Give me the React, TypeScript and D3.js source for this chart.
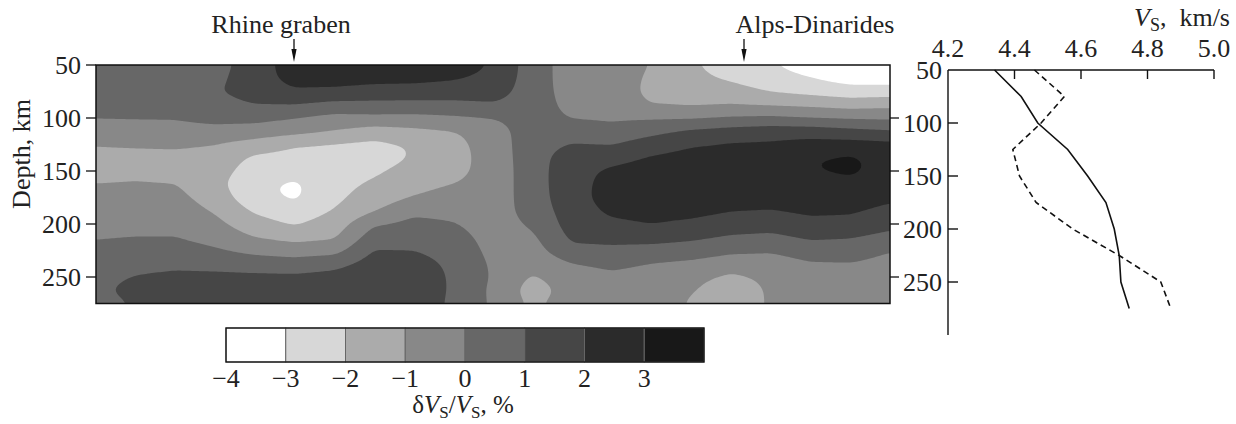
import React, { useEffect, useRef } from "react";
import * as d3 from "d3";

const W = 1236;
const H = 424;
const FONT = "'Liberation Serif', 'DejaVu Serif', serif";

// model grid: depth of each row (km) and profile position of each column
const gridDepths = [50, 62.5, 75, 87.5, 100, 112.5, 125, 137.5, 150, 162.5, 175, 187.5, 200, 212.5, 225, 237.5, 250, 262.5, 275];
const gridCols = [0, 1, 2, 3, 4, 5, 6, 7, 8, 9, 10, 11, 12, 13, 14, 15, 16, 17, 18, 19, 20];

const col00 = [0.5, 0.5, 0.45, 0.3, 0.04, -0.42, -0.94, -1.35, -1.35, -0.96, -0.74, -0.5, -0.28, -0.05, 0.2, 0.45, 0.7, 0.8, 0.6];
const col01 = [0.5, 0.5, 0.45, 0.3, 0.06, -0.37, -0.87, -1.32, -1.26, -0.91, -0.68, -0.45, -0.22, 0.0, 0.35, 0.71, 1.05, 1.3, 1.1];
const col02 = [0.5, 0.5, 0.45, 0.3, 0.07, -0.33, -0.83, -1.29, -1.33, -0.98, -0.73, -0.48, -0.24, 0.0, 0.4, 0.8, 1.2, 1.4, 1.5];
const col03 = [0.7, 0.8, 0.95, 0.7, 0.3, -0.32, -1.02, -1.33, -1.55, -1.7, -1.43, -1.1, -0.73, -0.33, 0.11, 0.73, 1.2, 1.4, 1.5];
const col04 = [1.4, 1.45, 1.3, 1.02, 0.3, -0.44, -1.39, -2.2, -2.5, -2.8, -2.7, -2.12, -1.62, -1.0, -0.29, 0.57, 1.2, 1.4, 1.5];
const col05 = [2.6, 2.4, 1.85, 1.0, 0.0, -0.65, -1.93, -2.33, -2.67, -3.15, -3.15, -2.6, -2.1, -1.33, -0.47, 0.43, 1.2, 1.45, 1.5];
const col06 = [2.6, 2.4, 1.8, 0.7, -0.32, -1.02, -2.1, -2.37, -2.6, -2.4, -2.25, -1.94, -1.53, -1.12, -0.37, 0.73, 1.3, 1.5, 1.5];
const col07 = [2.6, 2.3, 1.63, 0.71, -0.25, -1.44, -2.24, -2.6, -2.18, -1.82, -1.46, -1.1, -0.1, 0.5, 1.05, 1.4, 1.55, 1.6, 1.6];
const col08 = [2.6, 2.3, 1.55, 0.72, -0.3, -1.23, -1.9, -1.9, -1.53, -1.26, -0.98, -0.22, 0.26, 0.63, 1.01, 1.3, 1.45, 1.5, 1.5];
const col09 = [2.5, 2.1, 1.5, 0.75, -0.15, -1.05, -1.3, -1.35, -1.25, -1.0, -0.64, -0.29, 0.06, 0.4, 0.7, 0.85, 0.9, 0.9, 0.85];
const col10 = [1.9, 1.75, 1.45, 0.9, 0.0, -0.45, -0.55, -0.6, -0.65, -0.65, -0.6, -0.55, -0.5, -0.4, -0.3, -0.15, -0.1, -0.2, -0.15];
const col11 = [0.5, 0.5, 0.5, 0.55, 0.5, 0.55, 0.6, 0.6, 0.6, 0.6, 0.55, 0.45, 0.15, -0.15, -0.4, -0.65, -1.1, -1.45, -1.2];
const col12 = [-0.5, -0.5, -0.45, -0.35, -0.05, 0.5, 1.06, 1.5, 1.6, 1.6, 1.6, 1.5, 1.45, 1.2, 0.74, -0.05, -0.45, -0.6, -0.5];
const col13 = [-0.4, -0.4, -0.35, -0.3, -0.15, 0.33, 0.98, 1.62, 2.2, 2.4, 2.45, 2.2, 1.8, 1.3, 0.79, 0.27, -0.25, -0.35, -0.2];
const col14 = [-1.05, -1.2, -1.3, -1.0, -0.1, 0.73, 1.48, 2.1, 2.5, 2.6, 2.55, 2.35, 2.03, 1.37, 0.66, -0.05, -0.4, -0.5, -0.5];
const col15 = [-1.9, -1.75, -1.55, -1.1, -0.1, 1.18, 1.9, 2.35, 2.6, 2.65, 2.55, 2.3, 1.8, 1.2, 0.5, -0.2, -0.75, -0.95, -1.1];
const col16 = [-2.4, -2.15, -1.6, -1.0, 0.1, 1.41, 2.1, 2.45, 2.6, 2.6, 2.4, 2.05, 1.5, 0.9, 0.2, -0.5, -1.2, -1.45, -1.5];
const col17 = [-2.95, -2.6, -2.05, -1.1, 0.2, 1.55, 2.15, 2.5, 2.75, 2.7, 2.4, 1.97, 1.4, 0.8, 0.1, -0.45, -0.8, -0.9, -0.9];
const col18 = [-3.4, -3.0, -2.3, -1.2, 0.0, 1.55, 2.35, 2.95, 2.95, 2.7, 2.5, 2.2, 1.7, 1.15, 0.5, -0.1, -0.5, -0.6, -0.6];
const col19 = [-3.6, -3.45, -2.55, -1.4, -0.1, 1.3, 2.4, 3.15, 3.15, 2.75, 2.45, 2.15, 1.65, 1.05, 0.5, -0.05, -0.5, -0.6, -0.6];
const col20 = [-3.6, -3.5, -2.5, -1.27, -0.17, 1.1, 2.3, 2.6, 2.65, 2.5, 2.2, 1.75, 1.25, 0.75, 0.02, -0.3, -0.5, -0.5, -0.5];
const dvsColumns = [col00, col01, col02, col03, col04, col05, col06, col07, col08, col09, col10,
  col11, col12, col13, col14, col15, col16, col17, col18, col19, col20];

// colour scale of the section
const bandEdges = [-4, -3, -2, -1, 0, 1, 2, 3, 4];
const bandColors = ["#ffffff", "#d7d7d7", "#ababab", "#888888", "#676767", "#464646", "#2b2b2b", "#181818"];
const bandLabels = ["\u22124", "\u22123", "\u22122", "\u22121", "0", "1", "2", "3"];

// Vs profiles
const vsDepths = [50, 75, 100, 125, 150, 175, 200, 225, 250, 275];
const vsSolid = [4.34, 4.42, 4.47, 4.56, 4.62, 4.675, 4.70, 4.715, 4.72, 4.745];
const vsDashed = [4.46, 4.55, 4.48, 4.395, 4.415, 4.465, 4.575, 4.715, 4.84, 4.87];
const vsTicks = [4.2, 4.4, 4.6, 4.8, 5.0];
const depthTicks = [50, 100, 150, 200, 250];

function Chart() {
  const svgRef = useRef<SVGSVGElement | null>(null);

  useEffect(() => {
    const svg = d3.select(svgRef.current);
    svg.selectAll("*").remove();

    // section frame
    const x = d3.scaleLinear().domain([0, 20]).range([96, 890]);
    const y = d3.scaleLinear().domain([50, 275]).range([65, 303.5]);
    const [px0, px1] = x.range();
    const [py0, py1] = y.range();

    // resample grid for contouring (bilinear between read values)
    const nx = 398, ny = 120;
    const field = new Float64Array(nx * ny);
    const rowIdx = d3.scaleLinear().domain(gridDepths).range(d3.range(gridDepths.length));
    for (let j = 0; j < ny; j++) {
      const depth = y.invert(py0 + (j / (ny - 1)) * (py1 - py0));
      const r = Math.max(0, Math.min(gridDepths.length - 1.0001, rowIdx(depth)));
      const r0 = Math.floor(r), tr = r - r0;
      for (let i = 0; i < nx; i++) {
        const c = Math.max(0, Math.min(gridCols.length - 1.0001, x.invert(px0 + (i / (nx - 1)) * (px1 - px0))));
        const c0 = Math.floor(c), tc = c - c0;
        const a = dvsColumns[c0][r0] * (1 - tr) + dvsColumns[c0][r0 + 1] * tr;
        const b = dvsColumns[c0 + 1][r0] * (1 - tr) + dvsColumns[c0 + 1][r0 + 1] * tr;
        field[j * nx + i] = a * (1 - tc) + b * tc;
      }
    }
    if ((d3 as any).blur2) (d3 as any).blur2({ data: field, width: nx, height: ny }, 1.5);

    const sx = (px1 - px0) / (nx - 1);
    const sy = (py1 - py0) / (ny - 1);
    const path = d3.geoPath(d3.geoTransform({
      point(cx: number, cy: number) {
        (this as any).stream.point(px0 + (cx - 0.5) * sx, py0 + (cy - 0.5) * sy);
      }
    }));
    const thresholds = bandEdges.slice(1, -1);
    const contours = d3.contours().size([nx, ny]).thresholds(thresholds)(Array.from(field));

    svg.append("clipPath").attr("id", "sec-clip")
      .append("rect").attr("x", px0).attr("y", py0).attr("width", px1 - px0).attr("height", py1 - py0);

    const sec = svg.append("g").attr("clip-path", "url(#sec-clip)");
    sec.append("rect")
      .attr("x", px0).attr("y", py0).attr("width", px1 - px0).attr("height", py1 - py0)
      .attr("fill", bandColors[0]);
    sec.selectAll("path.band")
      .data(contours)
      .enter()
      .append("path")
      .attr("class", "band")
      .attr("d", (d: any) => path(d))
      .attr("fill", (d: any, k: number) => bandColors[k + 1]);

    svg.append("rect")
      .attr("x", px0).attr("y", py0).attr("width", px1 - px0).attr("height", py1 - py0)
      .attr("fill", "none").attr("stroke", "#111").attr("stroke-width", 1.5);

    // depth ticks, left and right of the section
    const tk = svg.append("g").attr("stroke", "#111").attr("stroke-width", 1.3);
    depthTicks.forEach(d => {
      tk.append("line").attr("x1", px0 - 10).attr("x2", px0).attr("y1", y(d)).attr("y2", y(d));
      if (d > 50) tk.append("line").attr("x1", px1).attr("x2", px1 + 9).attr("y1", y(d)).attr("y2", y(d));
    });
    svg.append("g").selectAll("text")
      .data(depthTicks).enter().append("text")
      .attr("x", px0 - 15).attr("y", d => y(d)).attr("dy", "0.35em")
      .attr("text-anchor", "end")
      .style("font-family", FONT).style("font-size", "26px").style("fill", "#222")
      .text(d => d);

    svg.append("text")
      .attr("transform", "translate(30,154) rotate(-90)")
      .attr("text-anchor", "middle")
      .style("font-family", FONT).style("font-size", "26px").style("fill", "#222")
      .text("Depth, km");

    // region markers
    const markers = [
      { label: "Rhine graben", tx: 281, ax: 294 },
      { label: "Alps-Dinarides", tx: 815, ax: 744 },
    ];
    markers.forEach(m => {
      svg.append("text").attr("x", m.tx).attr("y", 33).attr("text-anchor", "middle")
        .style("font-family", FONT).style("font-size", "26px").style("fill", "#222")
        .text(m.label);
      svg.append("line").attr("x1", m.ax).attr("x2", m.ax).attr("y1", 39).attr("y2", 52)
        .attr("stroke", "#111").attr("stroke-width", 1.3);
      svg.append("path")
        .attr("d", `M${m.ax - 2.6},49 L${m.ax + 2.6},49 L${m.ax},62 Z`)
        .attr("fill", "#111");
    });

    // colour bar
    const cb = d3.scaleLinear().domain([-4, 4]).range([226, 704]);
    const cbY = 328, cbH = 34;
    svg.append("g").selectAll("rect")
      .data(bandColors).enter().append("rect")
      .attr("x", (c, k) => cb(bandEdges[k]))
      .attr("y", cbY)
      .attr("width", (c, k) => cb(bandEdges[k + 1]) - cb(bandEdges[k]))
      .attr("height", cbH)
      .attr("fill", c => c)
      .attr("stroke", "#666").attr("stroke-width", 1);
    svg.append("rect").attr("x", cb(-4)).attr("y", cbY).attr("width", cb(4) - cb(-4)).attr("height", cbH)
      .attr("fill", "none").attr("stroke", "#111").attr("stroke-width", 1.3);
    svg.append("g").selectAll("text")
      .data(bandLabels).enter().append("text")
      .attr("x", (s, k) => cb(bandEdges[k]))
      .attr("y", 387)
      .attr("text-anchor", "middle")
      .style("font-family", FONT).style("font-size", "26px").style("fill", "#222")
      .text(s => s);
    const cbt = svg.append("text").attr("x", 463).attr("y", 413).attr("text-anchor", "middle")
      .style("font-family", FONT).style("font-size", "25px").style("fill", "#222");
    cbt.append("tspan").text("\u03b4");
    cbt.append("tspan").style("font-style", "italic").text("V");
    cbt.append("tspan").attr("dy", 5).style("font-size", "17px").text("S");
    cbt.append("tspan").attr("dy", -5).text("/");
    cbt.append("tspan").style("font-style", "italic").text("V");
    cbt.append("tspan").attr("dy", 5).style("font-size", "17px").text("S");
    cbt.append("tspan").attr("dy", -5).text(", %");

    // Vs panel
    const vx = d3.scaleLinear().domain([4.2, 5.0]).range([948, 1214]);
    const vy = d3.scaleLinear().domain([50, 300]).range([70, 335]);
    const ax = svg.append("g").attr("stroke", "#111").attr("stroke-width", 1.4);
    ax.append("line").attr("x1", vx(4.2)).attr("x2", vx(5.0)).attr("y1", vy(50)).attr("y2", vy(50));
    ax.append("line").attr("x1", vx(4.2)).attr("x2", vx(4.2)).attr("y1", vy(50)).attr("y2", vy(300));
    vsTicks.slice(1).forEach(v => {
      ax.append("line").attr("x1", vx(v)).attr("x2", vx(v)).attr("y1", vy(50)).attr("y2", vy(50) + 9);
    });
    depthTicks.slice(1).forEach(d => {
      ax.append("line").attr("x1", vx(4.2)).attr("x2", vx(4.2) + 10).attr("y1", vy(d)).attr("y2", vy(d));
    });
    svg.append("g").selectAll("text")
      .data(vsTicks).enter().append("text")
      .attr("x", v => vx(v)).attr("y", 57).attr("text-anchor", "middle")
      .style("font-family", FONT).style("font-size", "26px").style("fill", "#222")
      .text(v => v.toFixed(1));
    svg.append("g").selectAll("text")
      .data(depthTicks).enter().append("text")
      .attr("x", vx(4.2) - 6).attr("y", d => vy(d)).attr("dy", "0.35em").attr("text-anchor", "end")
      .style("font-family", FONT).style("font-size", "26px").style("fill", "#222")
      .text(d => d);
    const vt = svg.append("text").attr("x", 1230).attr("y", 26).attr("text-anchor", "end")
      .style("font-family", FONT).style("font-size", "26px").style("fill", "#222");
    vt.append("tspan").style("font-style", "italic").text("V");
    vt.append("tspan").attr("dy", 5).style("font-size", "18px").text("S");
    vt.append("tspan").attr("dy", -5).text(",\u00a0 km/s");

    const line = d3.line<number>()
      .x(v => vx(v))
      .y((v, k) => vy(vsDepths[k]));
    svg.append("path").attr("d", line(vsSolid))
      .attr("fill", "none").attr("stroke", "#111").attr("stroke-width", 1.6);
    svg.append("path").attr("d", line(vsDashed))
      .attr("fill", "none").attr("stroke", "#111").attr("stroke-width", 1.6)
      .attr("stroke-dasharray", "6,4");
  }, []);

  return (
    <svg
      ref={svgRef}
      width={W}
      height={H}
      style={{ position: "absolute", left: 0, top: 0, background: "#fff", display: "block" }}
    />
  );
}

export default function App() {
  return <Chart />;
}
